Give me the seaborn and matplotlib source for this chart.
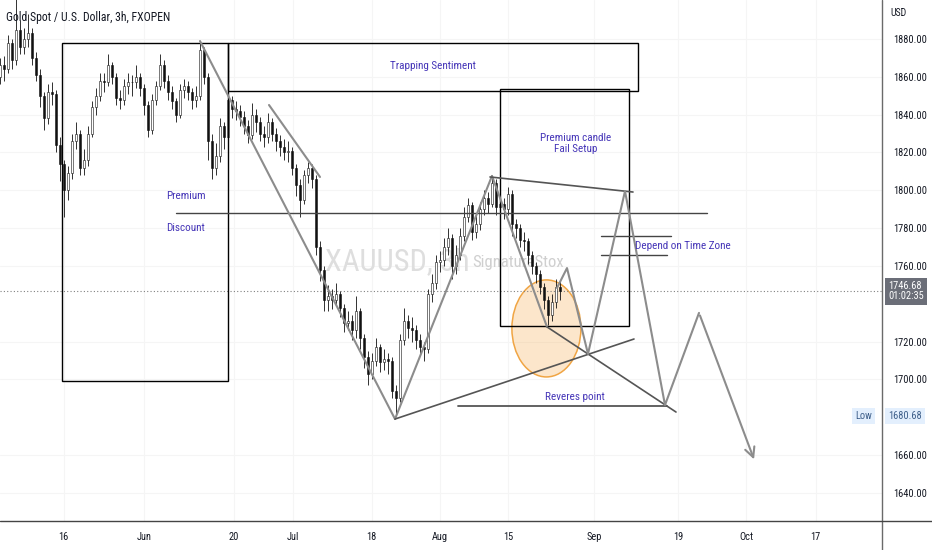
import matplotlib
matplotlib.use("Agg")
import matplotlib.pyplot as plt
import seaborn as sns
from matplotlib import font_manager
from matplotlib.patches import Rectangle, Ellipse
from matplotlib.lines import Line2D
import matplotlib.transforms as mtransforms

# 3h gold candles, one entry per candle
closes = [1866, 1864, 1878, 1869, 1885, 1876, 1880, 1883, 1870, 1861,
          1850, 1838, 1852, 1851, 1824, 1814, 1800, 1809, 1826, 1830,
          1812, 1816, 1830, 1844, 1850, 1858, 1857, 1866, 1860, 1849,
          1848, 1855, 1857, 1857, 1860, 1854, 1845, 1832, 1848, 1855,
          1866, 1858, 1852, 1847, 1840, 1853, 1855, 1852, 1848, 1850,
          1874, 1860, 1826, 1812, 1818, 1834, 1828, 1848, 1843, 1842,
          1839, 1834, 1829, 1840, 1836, 1830, 1828, 1836, 1830, 1826,
          1823, 1820, 1821, 1812, 1803, 1795, 1808, 1812, 1806, 1770,
          1758, 1742, 1744, 1742, 1745, 1738, 1730, 1731, 1726, 1736,
          1722, 1712, 1703, 1710, 1717, 1709, 1711, 1710, 1694, 1690,
          1721, 1731, 1727, 1726, 1721, 1717, 1716, 1745, 1751, 1762,
          1763, 1770, 1775, 1760, 1766, 1776, 1786, 1792, 1778, 1782,
          1790, 1796, 1793, 1804, 1791, 1793, 1790, 1798, 1782, 1780,
          1774, 1773, 1766, 1760, 1756, 1749, 1742, 1734, 1741, 1749,
          1746.68]
highs = [1870, 1871, 1882, 1880, 1902, 1890, 1886, 1893, 1886, 1873,
         1864, 1852, 1856, 1857, 1853, 1828, 1816, 1813, 1830, 1836,
         1832, 1822, 1834, 1847, 1854, 1862, 1862, 1872, 1868, 1862,
         1853, 1859, 1862, 1861, 1866, 1862, 1856, 1847, 1851, 1858,
         1872, 1869, 1861, 1855, 1849, 1856, 1859, 1858, 1854, 1855,
         1879, 1876, 1862, 1830, 1825, 1838, 1836, 1851, 1850, 1847,
         1845, 1842, 1837, 1846, 1843, 1839, 1834, 1841, 1838, 1833,
         1829, 1827, 1826, 1823, 1814, 1806, 1811, 1815, 1814, 1808,
         1773, 1760, 1750, 1748, 1751, 1747, 1740, 1736, 1734, 1744,
         1738, 1724, 1715, 1714, 1722, 1719, 1716, 1714, 1712, 1697,
         1724, 1738, 1734, 1733, 1729, 1724, 1720, 1748, 1756, 1766,
         1768, 1775, 1780, 1777, 1771, 1780, 1791, 1796, 1794, 1787,
         1794, 1800, 1799, 1807, 1806, 1798, 1796, 1802, 1800, 1785,
         1782, 1778, 1775, 1768, 1762, 1758, 1751, 1744, 1745, 1753,
         1752]
lows = [1856, 1858, 1862, 1864, 1866, 1872, 1872, 1876, 1866, 1858,
        1844, 1832, 1835, 1845, 1820, 1805, 1786, 1795, 1806, 1822,
        1808, 1808, 1813, 1828, 1840, 1847, 1852, 1855, 1856, 1845,
        1843, 1845, 1851, 1850, 1854, 1850, 1840, 1828, 1830, 1845,
        1853, 1854, 1848, 1843, 1836, 1838, 1849, 1848, 1843, 1844,
        1848, 1856, 1816, 1806, 1808, 1815, 1822, 1826, 1838, 1837,
        1834, 1830, 1825, 1827, 1831, 1826, 1823, 1825, 1826, 1821,
        1818, 1816, 1815, 1808, 1797, 1786, 1793, 1804, 1801, 1766,
        1752, 1736, 1736, 1737, 1739, 1733, 1725, 1726, 1721, 1722,
        1716, 1706, 1697, 1700, 1707, 1704, 1705, 1703, 1690, 1681,
        1688, 1718, 1722, 1720, 1716, 1713, 1710, 1714, 1741, 1748,
        1757, 1760, 1766, 1753, 1756, 1763, 1773, 1783, 1774, 1775,
        1779, 1787, 1788, 1791, 1787, 1788, 1785, 1787, 1776, 1775,
        1770, 1768, 1761, 1756, 1751, 1745, 1737, 1729, 1731, 1738,
        1742]
first_open = 1860
last_price = 1746.68
low_price = 1680.68

x_tick_pos = [15.9, 36.1, 58.4, 73.3, 92.9, 110.0, 127.1, 148.6, 169.45, 186.5, 203.9]
x_tick_labels = ['16', 'Jun', '20', 'Jul', '18', 'Aug', '15', 'Sep', '19', 'Oct', '17']
price_ticks = [1640, 1660, 1700, 1720, 1760, 1780, 1800, 1820, 1840, 1860, 1880]

# drawings on the chart (candle index, price)
left_box = (15.5, 1699.2, 57.0, 1877.9)
trap_box = (57.0, 1852.5, 159.5, 1877.9)
fail_box = (125.0, 1728.3, 157.25, 1853.6)
premium_line = (44.0, 176.75, 1788.0)
zone_lines = [(150.25, 167.75, 1775.9), (150.25, 166.75, 1765.8)]
reverse_line = (114.5, 166.75, 1686.0)
gray_lines = [((50.0, 98.75), (1878.9, 1679.1)),
              ((67.25, 80.0), (1845.1, 1807.05)),
              ((98.75, 123.0), (1679.1, 1807.6)),
              ((123.0, 136.75), (1807.6, 1727.8))]
dark_lines = [((136.75, 169.0), (1727.8, 1682.8)),
              ((98.75, 158.5), (1679.1, 1721.4)),
              ((122.5, 158.25), (1807.05, 1799.1))]
zigzag_x = [139.25, 141.75, 147.0, 156.25, 166.25, 174.75]
zigzag_y = [1748.4, 1758.9, 1713.5, 1799.6, 1686.5, 1735.2]
arrow_end = (188.75, 1656.4)
circle = (136.6, 1727.0, 17.25, 51.3)

names = {f.name for f in font_manager.fontManager.ttflist}
narrow = next((n for n in ['Liberation Sans Narrow', 'Roboto Condensed', 'Lato'] if n in names), 'DejaVu Sans')

sns.set_style('white')
plt.rcParams['font.family'] = [narrow, 'DejaVu Sans']

fig = plt.figure(figsize=(9.32, 5.5), dpi=100)
ax = fig.add_axes([0, 29 / 550, 882 / 932, 521 / 550])
ax.set_xlim(0, 220.5)
ax.set_ylim(1625.2, 1900.6)

# faint grid
for xp in x_tick_pos:
    ax.axvline(xp, color='#f5f5f5', lw=0.8, zorder=0)
for yp in price_ticks:
    ax.axhline(yp, color='#f5f5f5', lw=0.8, zorder=0)

# watermark
ax.text(81.25, 1762.1, 'XAUUSD, 3h', fontsize=22, color='#dedede', va='center', ha='left', zorder=1)
ax.text(118.0, 1762.1, 'SignatureStox', fontsize=12, color='#cfcfcf', va='center', ha='left', zorder=1)

# candles
opens = [first_open] + closes[:-1]
xs = list(range(len(closes)))
ups = [c >= o for o, c in zip(opens, closes)]
ax.vlines(xs, lows, highs, color='#111111', lw=0.6, zorder=3)
bottoms = [min(o, c) for o, c in zip(opens, closes)]
heights = [max(abs(c - o), 0.4) for o, c in zip(opens, closes)]
ax.bar(xs, heights, bottom=bottoms, width=0.55,
       color=['white' if u else '#111111' for u in ups], edgecolor='#111111', lw=0.4, zorder=4)

# orange circle
ax.add_patch(Ellipse(circle[:2], circle[2], circle[3], fc=(0.96, 0.66, 0.28, 0.28),
                     ec='#f0a544', lw=1.1, zorder=2))

# boxes
for b in (left_box, trap_box, fail_box):
    ax.add_patch(Rectangle((b[0], b[1]), b[2] - b[0], b[3] - b[1], fill=False,
                           ec='black', lw=1.0, zorder=5))

ax.plot(premium_line[:2], [premium_line[2]] * 2, color='#444444', lw=1.0, zorder=5)
for zl in zone_lines:
    ax.plot(zl[:2], [zl[2]] * 2, color='#444444', lw=1.0, zorder=5)
ax.plot(reverse_line[:2], [reverse_line[2]] * 2, color='#555555', lw=1.3, zorder=5)

for lx, ly in gray_lines:
    sns.lineplot(x=list(lx), y=list(ly), ax=ax, color='#8c8c8c', lw=1.5, sort=False, estimator=None, zorder=6)
for lx, ly in dark_lines:
    sns.lineplot(x=list(lx), y=list(ly), ax=ax, color='#555555', lw=1.2, sort=False, estimator=None, zorder=6)
sns.lineplot(x=zigzag_x, y=zigzag_y, ax=ax, color='#8c8c8c', lw=1.5, sort=False, estimator=None, zorder=6)
ax.annotate('', xy=arrow_end, xytext=(zigzag_x[-1], zigzag_y[-1]),
            arrowprops=dict(arrowstyle='->,head_length=0.7,head_width=0.35', color='#8c8c8c', lw=1.5),
            zorder=6)

# current price dotted line
ax.axhline(last_price, color='#808080', lw=0.8, ls=(0, (1, 2)), zorder=2)

# labels
txt = '#4636b8'
ax.text(108.25, 1865.7, 'Trapping Sentiment', color=txt, fontsize=8, ha='center', va='center', zorder=7)
ax.text(144.0, 1824.8, 'Premium candle\nFail Setup', color=txt, fontsize=8, ha='center', va='center',
        linespacing=1.1, zorder=7)
ax.text(41.5, 1797.0, 'Premium', color=txt, fontsize=8, ha='left', va='center', zorder=7)
ax.text(41.5, 1780.1, 'Discount', color=txt, fontsize=8, ha='left', va='center', zorder=7)
ax.text(158.75, 1770.6, 'Depend on Time Zone', color=txt, fontsize=8, ha='left', va='center', zorder=7)
ax.text(143.75, 1690.75, 'Reveres point', color=txt, fontsize=8, ha='center', va='center', zorder=7)

ax.text(6 / 882, 1 - 17 / 521, 'Gold Spot / U.S. Dollar, 3h, FXOPEN', transform=ax.transAxes,
        fontsize=8.5, color='#131722', ha='left', va='center', zorder=8)

# axes
ax.yaxis.tick_right()
ax.set_yticks(price_ticks, [f'{p:.2f}' for p in price_ticks])
ax.set_xticks(x_tick_pos, x_tick_labels)
ax.tick_params(axis='y', length=0, pad=8, labelsize=7.5, colors='#131722')
ax.tick_params(axis='x', length=0, pad=8, labelsize=7.5, colors='#131722')
for s in ax.spines.values():
    s.set_visible(False)
fig.add_artist(Line2D([882 / 932] * 2, [0, 1], color='#6a6a6a', lw=1.0))
fig.add_artist(Line2D([0, 1], [29 / 550] * 2, color='#444444', lw=1.0))

ax.text(1 + 8 / 882, 1 - 13 / 521, 'USD', transform=ax.transAxes, fontsize=7, color='#131722',
        ha='left', va='center')
trans = mtransforms.blended_transform_factory(ax.transAxes, ax.transData)
ax.text(1 + 6 / 882, last_price, f'{last_price:.2f}\n01:02:35', transform=trans, fontsize=7.5,
        color='white', ha='left', va='center', linespacing=1.05, clip_on=False,
        bbox=dict(boxstyle='square,pad=0.3', fc='#6b6e78', ec='none'))
ax.text(1 + 6 / 882, low_price, f'{low_price:.2f}', transform=trans, fontsize=7.5,
        color='#3e5f8a', ha='left', va='center', clip_on=False,
        bbox=dict(boxstyle='square,pad=0.3', fc='#e3effd', ec='none'))
ax.text(1 - 10 / 882, low_price, 'Low', transform=trans, fontsize=7.5,
        color='#3e5f8a', ha='right', va='center', clip_on=False,
        bbox=dict(boxstyle='square,pad=0.3', fc='#e3effd', ec='none'))

fig.savefig('out.png', dpi=100)
